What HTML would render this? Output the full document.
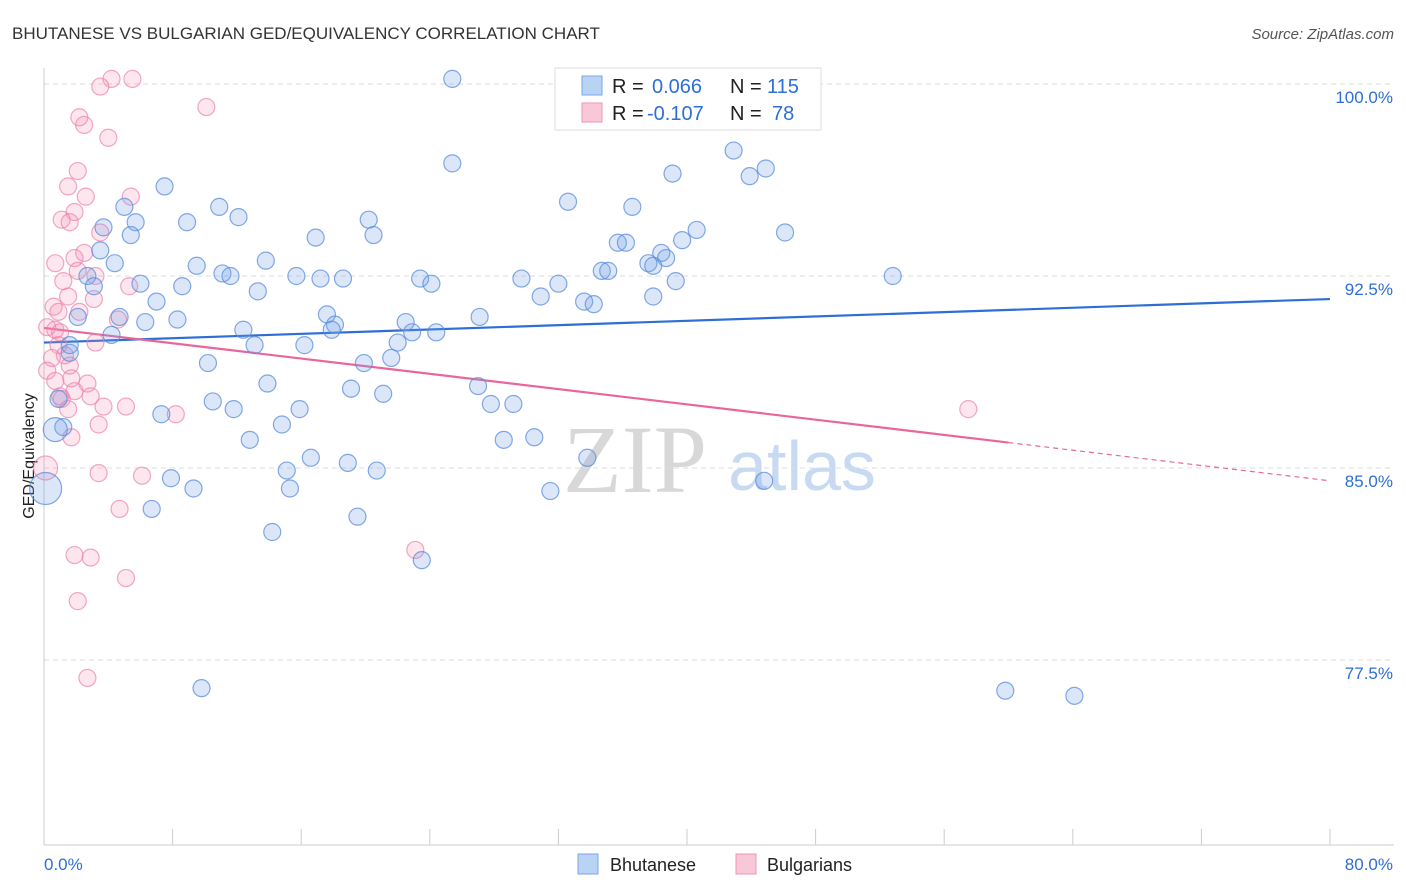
<!DOCTYPE html>
<html><head><meta charset="utf-8"><style>
body{margin:0;background:#fff;font-family:"Liberation Sans",sans-serif;}
#wrap{position:relative;width:1406px;height:892px;overflow:hidden;}
</style></head><body>
<div id="wrap">
<svg id="chart" width="1406" height="892">
<text x="12" y="39" font-size="17" fill="#333">BHUTANESE VS BULGARIAN GED/EQUIVALENCY CORRELATION CHART</text>
<text x="1394" y="39" font-size="15" fill="#555" font-style="italic" text-anchor="end">Source: ZipAtlas.com</text>
<text transform="translate(34,456) rotate(-90)" font-size="16" fill="#222" text-anchor="middle">GED/Equivalency</text>
<g>
<text x="635" y="492" font-size="96" fill="#d8d8d8" font-family="Liberation Serif,serif" text-anchor="middle">ZIP</text>
<text x="802" y="490" font-size="70" fill="#c8daf2" text-anchor="middle">atlas</text>
</g>
<g id="grid"></g>
<g id="axes"></g>
<g id="lines"></g>
<g id="pts"></g>
<g>
<rect x="555" y="68" width="266" height="62" fill="#fff" stroke="#ddd"/>
<rect x="582" y="76" width="20" height="19" fill="#b9d3f5" stroke="#7aa6e8"/>
<rect x="582" y="103" width="20" height="19" fill="#f9c8d8" stroke="#ee94b4"/>
<text x="612" y="93" font-size="20" fill="#222">R = </text><text x="652" y="93" font-size="20" fill="#2d6fd6">0.066</text>
<text x="730" y="93" font-size="20" fill="#222">N = </text><text x="767" y="93" font-size="20" fill="#2d6fd6">115</text>
<text x="612" y="120" font-size="20" fill="#222">R = </text><text x="647" y="120" font-size="20" fill="#2d6fd6">-0.107</text>
<text x="730" y="120" font-size="20" fill="#222">N = </text><text x="772" y="120" font-size="20" fill="#2d6fd6">78</text>
</g>
<g>
<rect x="578" y="854" width="20" height="20" fill="#b9d3f5" stroke="#7aa6e8"/>
<text x="610" y="871" font-size="18" fill="#222">Bhutanese</text>
<rect x="736" y="854" width="20" height="20" fill="#f9c8d8" stroke="#ee94b4"/>
<text x="767" y="871" font-size="18" fill="#222">Bulgarians</text>
</g>
</svg>
</div>
<script>
const blueX=[25.4,43.0,42.9,25.4,39.1,43.9,44.9,7.5,5.0,10.9,12.1,8.9,5.7,3.7,5.4,32.6,36.6,20.2,20.5,16.9,40.6,46.1,35.7,36.2,38.4,39.7,3.5,4.4,13.8,9.5,11.1,11.6,15.7,17.2,18.6,23.4,24.1,29.7,32.0,34.7,35.1,37.6,38.7,39.3,37.9,52.8,2.7,3.1,6.0,8.6,13.3,7.0,30.9,33.6,34.2,37.9,17.6,18.1,22.5,27.1,2.1,4.7,6.3,8.3,12.4,17.9,22.9,24.4,13.1,16.2,22.0,4.2,1.6,19.9,21.6,10.2,13.9,19.1,21.1,27.0,27.8,29.2,10.5,11.8,15.9,7.3,0.9,14.8,12.8,28.6,30.5,33.8,16.6,15.1,18.9,20.7,7.9,9.3,15.3,31.5,44.8,6.7,19.5,14.2,23.5,9.8,59.8,64.1,1.2,0.7,0.1,1.6];
const blueY=[100.2,100.2,97.4,96.9,96.5,96.4,96.7,96.0,95.2,95.2,94.8,94.6,94.6,94.4,94.1,95.4,95.2,94.7,94.1,94.0,94.3,94.2,93.8,93.8,93.4,93.9,93.5,93.0,93.1,92.9,92.6,92.5,92.5,92.4,92.4,92.4,92.2,92.4,92.2,92.7,92.7,93.0,93.2,92.3,92.9,92.5,92.5,92.1,92.2,92.1,91.9,91.5,91.7,91.5,91.4,91.7,91.0,90.6,90.7,90.9,90.9,90.9,90.7,90.8,90.4,90.4,90.3,90.3,89.8,89.8,89.9,90.2,89.5,89.1,89.3,89.1,88.3,88.1,87.9,88.2,87.5,87.5,87.6,87.3,87.3,87.1,87.7,86.7,86.1,86.1,86.2,85.4,85.4,84.9,85.2,84.9,84.6,84.2,84.2,84.1,84.5,83.4,83.1,82.5,81.4,76.4,76.3,76.1,86.6,86.5,84.2,89.8];
const blueR=blueX.map((_,i)=>i===109?12:(i===110?16:8.5));
const pinkX=[4.2,5.5,3.5,10.1,2.2,2.5,4.0,2.1,1.5,2.6,5.4,1.9,1.1,1.6,3.5,1.9,0.7,2.5,1.2,3.2,5.3,2.1,0.6,0.9,1.5,3.1,2.2,4.6,0.7,1.0,0.2,0.9,1.3,3.2,0.5,1.6,0.2,1.7,0.7,2.7,1.9,1.1,2.9,1.5,3.7,5.1,8.2,3.4,1.7,3.4,6.1,0.1,4.7,1.9,2.9,5.1,23.1,2.1,2.7,57.5,1.0];
const pinkY=[100.2,100.2,99.9,99.1,98.7,98.4,97.9,96.6,96.0,95.6,95.6,95.0,94.7,94.6,94.2,93.2,93.0,93.4,92.3,92.5,92.1,92.7,91.3,91.1,91.7,91.6,91.1,90.8,90.4,90.3,90.5,89.8,89.4,89.9,89.3,89.0,88.8,88.5,88.4,88.3,88.0,87.7,87.8,87.3,87.4,87.4,87.1,86.7,86.2,84.8,84.7,85.0,83.4,81.6,81.5,80.7,81.8,79.8,76.8,87.3,87.8];
const pinkR=pinkX.map((_,i)=>i===51?12:8.5);
const yTicks=[100,92.5,85,77.5];
const yTickLabels=["100.0%","92.5%","85.0%","77.5%"];
const blueFit=[89.9,91.6];
const pinkFit=[90.47,84.5];
const X0=44,X1=1330,Y100=84,PPU=25.6;
const sx=v=>X0+(v/80)*(X1-X0);
const sy=v=>Y100+(100-v)*PPU;
const NS="http://www.w3.org/2000/svg";
function mk(parent,tag,attrs){const e=document.createElementNS(NS,tag);for(const k in attrs)e.setAttribute(k,attrs[k]);document.getElementById(parent).appendChild(e);return e;}
yTicks.forEach((t,i)=>{
 const g=mk('grid','line',{x1:44,x2:1394,y1:sy(t),y2:sy(t),stroke:'#ddd','stroke-dasharray':'5,4'});
 
 
 const tx=mk('axes','text',{x:1393,y:sy(t)+19,'font-size':17,fill:'#2d6fd6','text-anchor':'end'});
 tx.textContent=yTickLabels[i];
 
 
});
let a=mk('axes','line',{x1:44,x2:44,y1:68,y2:845,stroke:'#ccc'});


a=mk('axes','line',{x1:44,x2:1394,y1:845,y2:845,stroke:'#ccc'});


for(let k=0;k<=10;k++){const t=mk('axes','line',{x1:sx(k*8),x2:sx(k*8),y1:829,y2:845,stroke:'#ccc'});
 
 }
let l=mk('axes','text',{x:44,y:870,'font-size':17,fill:'#2d6fd6'});l.textContent='0.0%';


l=mk('axes','text',{x:1393,y:870,'font-size':17,fill:'#2d6fd6','text-anchor':'end'});l.textContent='80.0%';


pinkX.forEach((x,i)=>{const c=mk('pts','circle',{cx:sx(x),cy:sy(pinkY[i]),r:pinkR[i],fill:'rgba(244,140,178,0.22)',stroke:'rgba(236,130,170,0.7)','stroke-width':1.2});
 
 });
blueX.forEach((x,i)=>{const c=mk('pts','circle',{cx:sx(x),cy:sy(blueY[i]),r:blueR[i],fill:'rgba(110,160,230,0.25)',stroke:'rgba(90,140,220,0.75)','stroke-width':1.2});
 
 });
let ln=mk('lines','line',{x1:sx(0),y1:sy(blueFit[0]),x2:sx(80),y2:sy(blueFit[1]),stroke:'#2d6fd6','stroke-width':2.2});


const px=60,py=pinkFit[0]+(pinkFit[1]-pinkFit[0])*px/80;
ln=mk('lines','line',{x1:sx(0),y1:sy(pinkFit[0]),x2:sx(px),y2:sy(py),stroke:'#e8679a','stroke-width':2.2});


ln=mk('lines','line',{x1:sx(px),y1:sy(py),x2:sx(80),y2:sy(pinkFit[1]),stroke:'#e8679a','stroke-width':1.2,'stroke-dasharray':'5,4'});


</script>
</body></html>
